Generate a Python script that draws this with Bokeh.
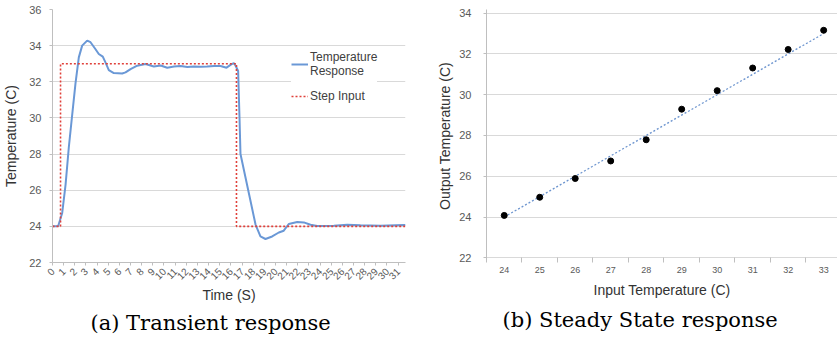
import math
from bokeh.plotting import figure
from bokeh.layouts import row
from bokeh.models import Range1d, FixedTicker, Title, Legend, LegendItem
from bokeh.embed import file_html
from bokeh.resources import INLINE

# ---------------- data: (a) transient response ----------------
time_s = [0, 0.27, 0.51, 0.87, 1.17, 1.46, 1.77, 2.06, 2.36, 2.66, 3.11, 3.41,
          3.86, 4.15, 4.51, 4.75, 5.05, 5.5, 6.25, 6.55, 7.0, 7.6, 8.34, 9.09,
          9.7, 10.29, 10.9, 11.48, 12.1, 12.67, 13.3, 13.87, 14.5, 15.07, 15.61,
          16.03, 16.26, 16.41, 16.65, 16.77, 16.86, 17.31, 17.76, 18.21, 18.65,
          19.1, 19.7, 20.3, 20.74, 21.19, 21.95, 22.54, 23.14, 23.74, 25.23,
          26.43, 27.62, 29.42, 31.5, 31.66]
response_c = [24.0, 24.0, 24.02, 24.74, 26.3, 28.35, 30.2, 31.9, 33.35, 34.0,
              34.28, 34.19, 33.8, 33.54, 33.39, 33.07, 32.65, 32.48, 32.46,
              32.52, 32.7, 32.89, 32.98, 32.85, 32.9, 32.78, 32.84, 32.87, 32.82,
              32.85, 32.83, 32.85, 32.88, 32.87, 32.78, 32.96, 33.03, 32.9, 32.6,
              30.05, 28.0, 26.7, 25.4, 24.1, 23.44, 23.3, 23.44, 23.66, 23.76,
              24.13, 24.24, 24.22, 24.09, 24.02, 24.04, 24.09, 24.06, 24.04,
              24.07, 24.07]
step_time_s = [0, 0.72, 0.72, 16.5, 16.5, 31.66]
step_input_c = [24, 24, 33, 33, 24, 24]
time_ticks = list(range(0, 32))
temp_ticks_a = [22, 24, 26, 28, 30, 32, 34, 36]

# ---------------- data: (b) steady state response ----------------
input_c = [24, 25, 26, 27, 28, 29, 30, 31, 32, 33]
output_c = [24.08, 24.97, 25.89, 26.75, 27.79, 29.29, 30.2, 31.31, 32.22, 33.16]
temp_ticks_b = [22, 24, 26, 28, 30, 32, 34]

GRID = "#d9d9d9"
AXIS = "#bfbfbf"
TICKTXT = "#595959"
LABTXT = "#333333"
SANS = "Liberation Sans"


def style(p, label_size="11px"):
    p.outline_line_color = None
    p.xgrid.grid_line_color = None
    p.ygrid.grid_line_color = GRID
    p.ygrid.grid_line_width = 1
    for ax in (p.xaxis[0], p.yaxis[0]):
        ax.axis_line_color = AXIS
        ax.major_tick_line_color = AXIS
        ax.minor_tick_line_color = None
        ax.major_tick_in = 0
        ax.major_tick_out = 3
        ax.major_label_text_font = SANS
        ax.major_label_text_color = TICKTXT
        ax.axis_label_text_font = SANS
        ax.axis_label_text_font_size = "14px"
        ax.axis_label_text_font_style = "normal"
        ax.axis_label_text_color = LABTXT
    p.yaxis[0].major_label_text_font_size = "11px"
    p.xaxis[0].major_label_text_font_size = label_size


def caption(text, offset, standoff):
    return Title(text=text, align="left", offset=offset, standoff=standoff,
                 text_font="DejaVu Serif", text_font_size="21px",
                 text_font_style="normal", text_color="black")


# ---------------- figure (a) ----------------
p1 = figure(width=420, height=340, output_backend="svg", toolbar_location=None,
            x_range=Range1d(0, 31.66), y_range=Range1d(22, 36),
            min_border_left=52, min_border_right=15, min_border_top=9,
            min_border_bottom=78)
style(p1, "10px")
p1.xaxis.ticker = FixedTicker(ticks=time_ticks)
p1.yaxis.ticker = FixedTicker(ticks=temp_ticks_a)
p1.xaxis.major_label_orientation = math.pi / 4
p1.xaxis.axis_label = "Time (S)"
p1.yaxis.axis_label = "Temperature (C)"
p1.yaxis.major_label_standoff = 8
p1.yaxis.axis_label_standoff = 7
p1.xaxis.major_label_standoff = 4
p1.xaxis.axis_label_standoff = 1

r_resp = p1.line(time_s, response_c, line_color="#6a98d6", line_width=2)
r_step = p1.line(step_time_s, step_input_c, line_color="#e0403a",
                 line_width=1.6, line_dash="2 2")
leg = Legend(items=[LegendItem(label="Temperature\nResponse", renderers=[r_resp]),
                    LegendItem(label="Step Input", renderers=[r_step])],
             location=(239, 156), label_text_font=SANS, label_text_font_size="12px",
             label_text_color="#404040", glyph_width=17, label_standoff=2,
             spacing=8, padding=4, border_line_color=None,
             background_fill_color="white", background_fill_alpha=1.0)
p1.add_layout(leg)
p1.add_layout(caption("(a) Transient response", 38, 5), "below")

# ---------------- figure (b) ----------------
# frames of a row share top/bottom, so (b) uses the same borders and a padded range
p2 = figure(width=417, height=340, output_backend="svg", toolbar_location=None,
            x_range=Range1d(23.5, 33.39), y_range=Range1d(21.77, 34.18),
            min_border_left=66, min_border_right=0, min_border_top=9,
            min_border_bottom=78)
style(p2, "9px")
p2.xaxis.ticker = FixedTicker(ticks=input_c, minor_ticks=[v + 0.5 for v in input_c])
p2.xaxis.axis_line_color = None
p2.xaxis.major_tick_out = 0
p2.xaxis.minor_tick_line_color = AXIS
p2.xaxis.minor_tick_in = 5
p2.xaxis.minor_tick_out = 0
p2.yaxis.ticker = FixedTicker(ticks=temp_ticks_b)
p2.xaxis.axis_label = "Input Temperature (C)"
p2.yaxis.axis_label = "Output Temperature (C)"
p2.yaxis.major_label_standoff = 12
p2.yaxis.axis_label_standoff = 3
p2.xaxis.major_label_standoff = 4
p2.xaxis.axis_label_standoff = 6

p2.line(input_c, input_c, line_color="#6d95cf", line_width=1.3, line_dash="2 2")
p2.scatter(input_c, output_c, marker="circle", size=6, color="black")
p2.add_layout(caption("(b) Steady State response", 16, 11), "below")

layout = row(p1, p2)
open("out.html", "w").write(file_html(layout, INLINE))
